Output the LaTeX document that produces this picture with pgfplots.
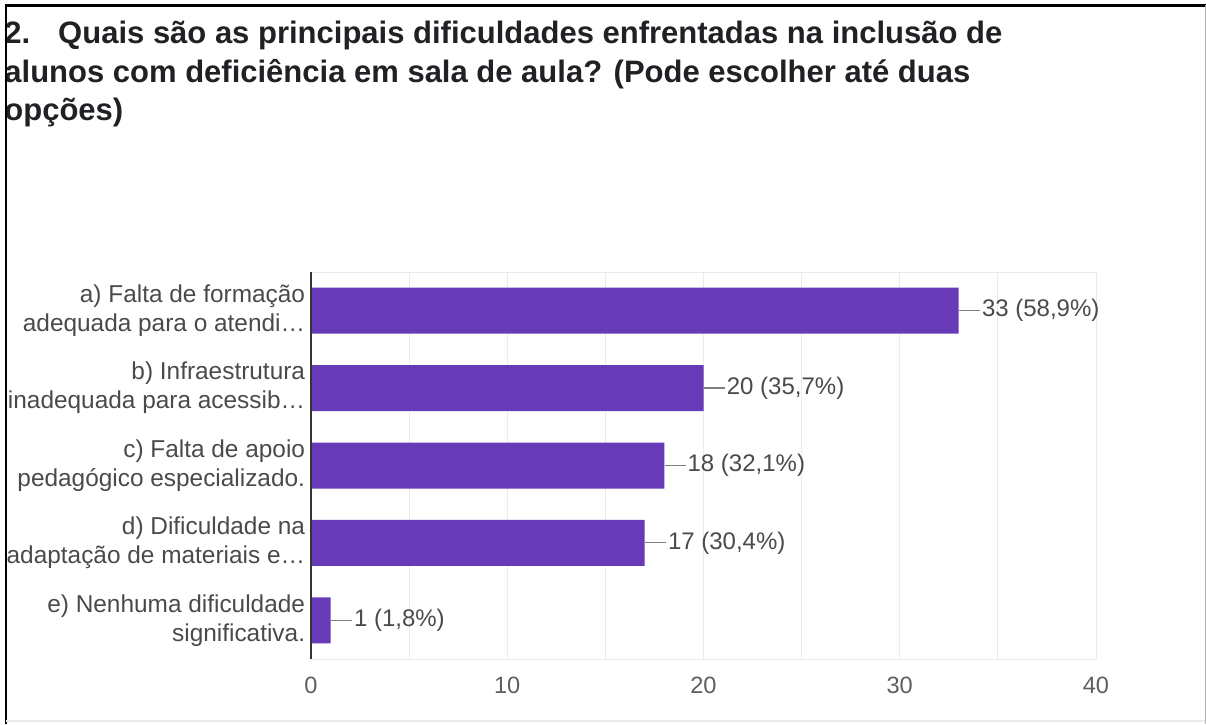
\documentclass[border=0pt]{standalone}
\usepackage{pgfplots}
\usepackage{pgfplotstable}
\pgfplotsset{compat=1.18}
\usepackage{fontspec}
\setmainfont{Liberation Sans}

\definecolor{barpurple}{HTML}{673AB7}
\definecolor{titletext}{HTML}{202124}
\definecolor{labtext}{HTML}{4A4A4A}
\definecolor{ticktext}{HTML}{5F5F5F}
\definecolor{gridgray}{HTML}{EBEBEB}

% respostas: posição, contagem, rótulo
\pgfplotstableread[col sep=semicolon]{
pos;n;lab
0;33;33 (58,9\%)
1;20;20 (35,7\%)
2;18;18 (32,1\%)
3;17;17 (30,4\%)
4;1;1 (1,8\%)
}\respostas

\begin{document}
\begin{tikzpicture}
\path[use as bounding box] (0,0) rectangle (603pt,362pt);

% titulo
\begin{scope}[every node/.style={anchor=base west, inner sep=0pt, text=titletext,
    font=\fontsize{15.5}{18}\selectfont\bfseries}]
\node at (2pt,340pt) {2.\hspace{14pt}Quais são as principais dificuldades enfrentadas na inclusão de};
\node at (2pt,320.5pt) {alunos com deficiência em sala de aula? (Pode escolher até duas};
\node at (2pt,301.5pt) {opções)};
\end{scope}

\begin{axis}[
    at={(155.5pt,32.5pt)}, anchor=south west,
    scale only axis, width=392.5pt, height=193.5pt,
    xbar, bar width=23pt,
    xmin=0, xmax=40,
    ymin=-0.5, ymax=4.5, y dir=reverse,
    xtick={0,10,20,30,40},
    minor xtick={5,15,25,35},
    xmajorgrids, xminorgrids,
    major grid style={draw=gridgray, line width=0.5pt},
    minor grid style={draw=gridgray, line width=0.5pt},
    ytick={0,1,2,3,4},
    yticklabels={
        {a) Falta de formação\\adequada para o atendi…},
        {b) Infraestrutura\\inadequada para acessib…},
        {c) Falta de apoio\\pedagógico especializado.},
        {d) Dificuldade na\\adaptação de materiais e…},
        {e) Nenhuma dificuldade\\significativa.}},
    yticklabel style={align=right, inner sep=0pt, xshift=1.5pt, text=labtext,
        font=\fontsize{12.2}{14.5}\selectfont},
    xticklabel style={inner sep=0pt, yshift=-9pt, text=ticktext,
        font=\fontsize{11.8}{14}\selectfont},
    /pgf/number format/assume math mode=true,
    tick style={draw=none},
    separate axis lines,
    x axis line style={draw=gridgray, line width=0.5pt},
    y axis line style={draw=none},
    point meta=explicit symbolic,
    nodes near coords={\textcolor{gray}{\rule[0.235em]{10.5pt}{0.6pt}}\hspace{1pt}\pgfplotspointmeta},
    every node near coord/.append style={anchor=west, inner sep=0pt, text=labtext,
        font=\fontsize{12}{14}\selectfont},
    clip=false,
]
\addplot[fill=barpurple, draw=none] table[x=n, y=pos, meta=lab] {\respostas};
\draw[color=black!80, line width=0.7pt] (axis cs:0,-0.5) -- (axis cs:0,4.5);
\end{axis}

% moldura
\fill[white] (0,0) rectangle (2.4pt,362pt);
\draw[black, line width=1.25pt] (3pt,0) -- (3pt,359.25pt);
\draw[black, line width=1.25pt] (2.4pt,359.25pt) -- (603pt,359.25pt);
\draw[black!30, line width=0.5pt] (602.5pt,0) -- (602.5pt,359.25pt);
\draw[black!8, line width=0.6pt] (3pt,1.5pt) -- (602.5pt,1.5pt);
\end{tikzpicture}
\end{document}
